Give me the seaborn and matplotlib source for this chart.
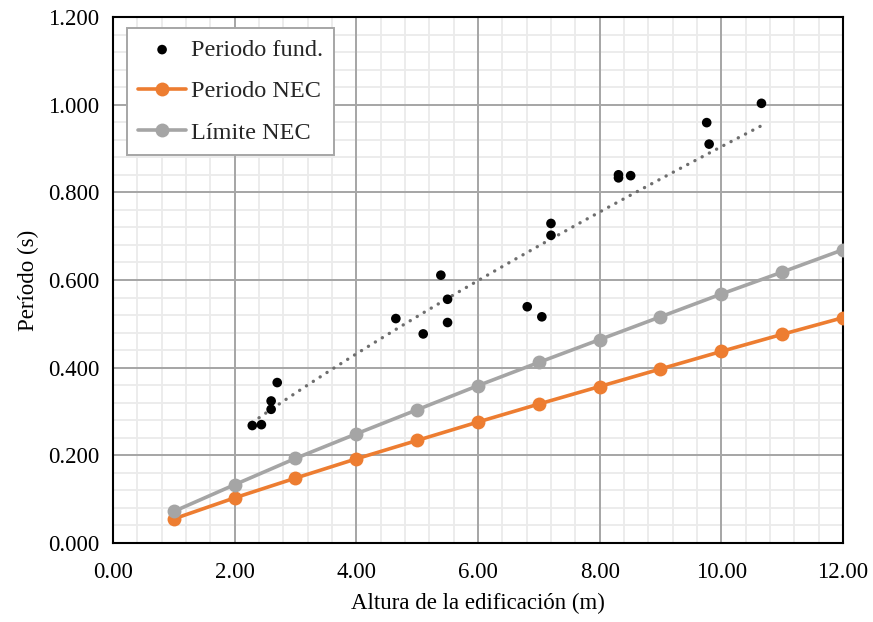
import matplotlib
matplotlib.use("Agg")
import matplotlib.pyplot as plt
from matplotlib.ticker import MultipleLocator, FormatStrFormatter, NullLocator
import seaborn as sns
import numpy as np
import pandas as pd

# Measured fundamental periods of the buildings
altura_fund = [2.29, 2.44, 2.60, 2.60, 2.70, 4.65, 5.10, 5.39, 5.50, 5.50,
               6.81, 7.05, 7.20, 7.20, 8.31, 8.31, 8.51, 9.76, 9.80, 10.66]
periodo_fund = [0.268, 0.270, 0.324, 0.305, 0.366, 0.512, 0.477, 0.611, 0.556, 0.503,
                0.539, 0.516, 0.729, 0.702, 0.840, 0.833, 0.838, 0.959, 0.910, 1.003]

# Code period and its upper limit per building height
altura_nec = [1, 2, 3, 4, 5, 6, 7, 8, 9, 10, 11, 12]
periodo_nec = [0.055, 0.103, 0.148, 0.192, 0.234, 0.276, 0.317, 0.357, 0.397, 0.437, 0.476, 0.514]
limite_nec = [0.072, 0.133, 0.193, 0.249, 0.304, 0.359, 0.412, 0.464, 0.516, 0.568, 0.618, 0.669]

df_fund = pd.DataFrame({"h": altura_fund, "T": periodo_fund})
df_nec = pd.DataFrame({"h": altura_nec, "T": periodo_nec, "L": limite_nec})

# Power-law trend T = a * h^b fitted in log-log space
b, ln_a = np.polyfit(np.log(df_fund["h"]), np.log(df_fund["T"]), 1)
h_fit = np.linspace(df_fund["h"].min(), df_fund["h"].max(), 200)
df_fit = pd.DataFrame({"h": h_fit, "T": np.exp(ln_a) * h_fit ** b})

sns.set_theme(style="white")
plt.rcParams["font.family"] = ["Liberation Serif", "DejaVu Serif"]

ORANGE = "#ED7D31"
GRAY = "#A5A5A5"
rect = [0.1294, 0.127, 0.8362, 0.8457]

fig = plt.figure(figsize=(8.73, 6.22), dpi=100)

# Background axes carrying only the light minor grid
ax_bg = fig.add_axes(rect, zorder=0)
ax_bg.set_xlim(0, 12)
ax_bg.set_ylim(0, 1.2)
ax_bg.xaxis.set_major_locator(NullLocator())
ax_bg.yaxis.set_major_locator(NullLocator())
ax_bg.xaxis.set_minor_locator(MultipleLocator(0.4))
ax_bg.yaxis.set_minor_locator(MultipleLocator(0.04))
ax_bg.grid(which="minor", color="#EBEBEB", linewidth=1.3)
ax_bg.tick_params(which="both", length=0, labelbottom=False, labelleft=False)
for sp in ax_bg.spines.values():
    sp.set_visible(False)

# Main axes with the darker major grid and the data
ax = fig.add_axes(rect, zorder=1)
ax.patch.set_alpha(0)
ax.xaxis.set_major_locator(MultipleLocator(2))
ax.yaxis.set_major_locator(MultipleLocator(0.2))
ax.grid(which="major", color="#A6A6A6", linewidth=1.4, zorder=0)
ax.set_axisbelow(True)

sns.lineplot(data=df_fit, x="h", y="T", ax=ax, color="#6E6E6E", linewidth=2.4,
             linestyle=(0, (0.05, 2.4)), zorder=2)
ax.lines[-1].set_dash_capstyle("round")

sns.scatterplot(data=df_fund, x="h", y="T", ax=ax, color="black", s=48,
                edgecolor="none", label="Periodo fund.", zorder=4)
sns.lineplot(data=df_nec, x="h", y="T", ax=ax, color=ORANGE, linewidth=2.6,
             marker="o", markersize=10, markeredgewidth=0, label="Periodo NEC", zorder=3)
sns.lineplot(data=df_nec, x="h", y="L", ax=ax, color=GRAY, linewidth=2.6,
             marker="o", markersize=10, markeredgewidth=0, label="Límite NEC", zorder=3)

ax.set_xlim(0, 12)
ax.set_ylim(0, 1.2)
ax.xaxis.set_major_formatter(FormatStrFormatter("%.2f"))
ax.yaxis.set_major_formatter(FormatStrFormatter("%.3f"))
ax.tick_params(axis="both", which="both", length=0, labelsize=16.5, colors="black")
ax.tick_params(axis="x", pad=14)
ax.tick_params(axis="y", pad=10)

ax.set_xlabel("Altura de la edificación (m)", fontsize=16.5, color="black", labelpad=7)
ax.set_ylabel("Período (s)", fontsize=16.5, color="black", labelpad=6)

for sp in ax.spines.values():
    sp.set_visible(True)
    sp.set_color("black")
    sp.set_linewidth(1.5)

leg = ax.legend(loc="upper left", bbox_to_anchor=(0.019, 0.979), borderaxespad=0,
                fontsize=17.5, frameon=True, fancybox=False, edgecolor="#A6A6A6",
                framealpha=1, handlelength=2.0, handletextpad=0.2, borderpad=0.45,
                labelspacing=0.8)
leg.get_frame().set_linewidth(1.4)

fig.savefig("out.png", dpi=100)
